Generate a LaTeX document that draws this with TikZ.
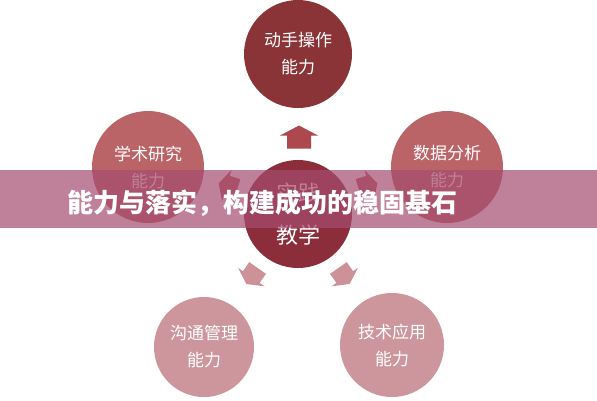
\documentclass[tikz,border=0pt]{standalone}
\usepackage{fontspec}
\setmainfont{Noto Sans CJK SC}
\definecolor{topc}{RGB}{138,52,56}
\definecolor{sidec}{RGB}{186,100,104}
\definecolor{midc}{RGB}{140,45,60}
\definecolor{lowc}{RGB}{205,150,156}
\definecolor{uparr}{RGB}{172,72,78}
\definecolor{sidearr}{RGB}{186,95,100}
\definecolor{lowarr}{RGB}{205,145,152}
\definecolor{bandc}{RGB}{165,75,110}
\tikzset{
  circ/.style={circle, inner sep=0pt, text=white, align=center,
    font=\fontsize{17}{27}\selectfont},
  blockarrow/.pic={\fill (-11.5,-12) -- (1.5,-12) -- (1.5,-19) -- (11.5,0)
     -- (1.5,19) -- (1.5,12) -- (-11.5,12) -- cycle;}
}
\begin{document}
\begin{tikzpicture}[x=1pt,y=-1pt]
\useasboundingbox (0,0) rectangle (597,400);
\fill[white] (0,0) rectangle (597,400);
% circles
\node[circ, fill=topc, minimum size=108pt] (top) at (298,54) {动手操作\\能力};
\node[circ, fill=sidec, minimum size=112pt] (ul) at (148,167) {学术研究\\能力};
\node[circ, fill=sidec, minimum size=112pt] (ur) at (447,167) {数据分析\\能力};
\node[circ, fill=midc, minimum size=108pt, font=\fontsize{22}{42}\selectfont] (mid) at (298,214) {实践\\教学};
\node[circ, fill=lowc, minimum size=100pt] (ll) at (204,347) {沟通管理\\能力};
\node[circ, fill=lowc, minimum size=104pt] (lr) at (392,345) {技术应用\\能力};
% block arrows
\pic[uparr, rotate=90] at (299,137) {blockarrow};
\pic[sidearr, rotate=163, scale=0.85] at (228,186) {blockarrow};
\pic[sidearr, rotate=17, scale=0.85] at (368,186) {blockarrow};
\pic[lowarr, rotate=235, scale=0.85] at (252,276) {blockarrow};
\pic[lowarr, rotate=305, scale=0.85] at (344,276) {blockarrow};
% banner
\fill[bandc, opacity=0.7] (0,170) rectangle (597,228);
\node[anchor=west, text=white, font=\bfseries\fontsize{26}{30}\selectfont, inner sep=0pt] (title) at (67,203) {能力与落实，构建成功的稳固基石};
\end{tikzpicture}
\end{document}
